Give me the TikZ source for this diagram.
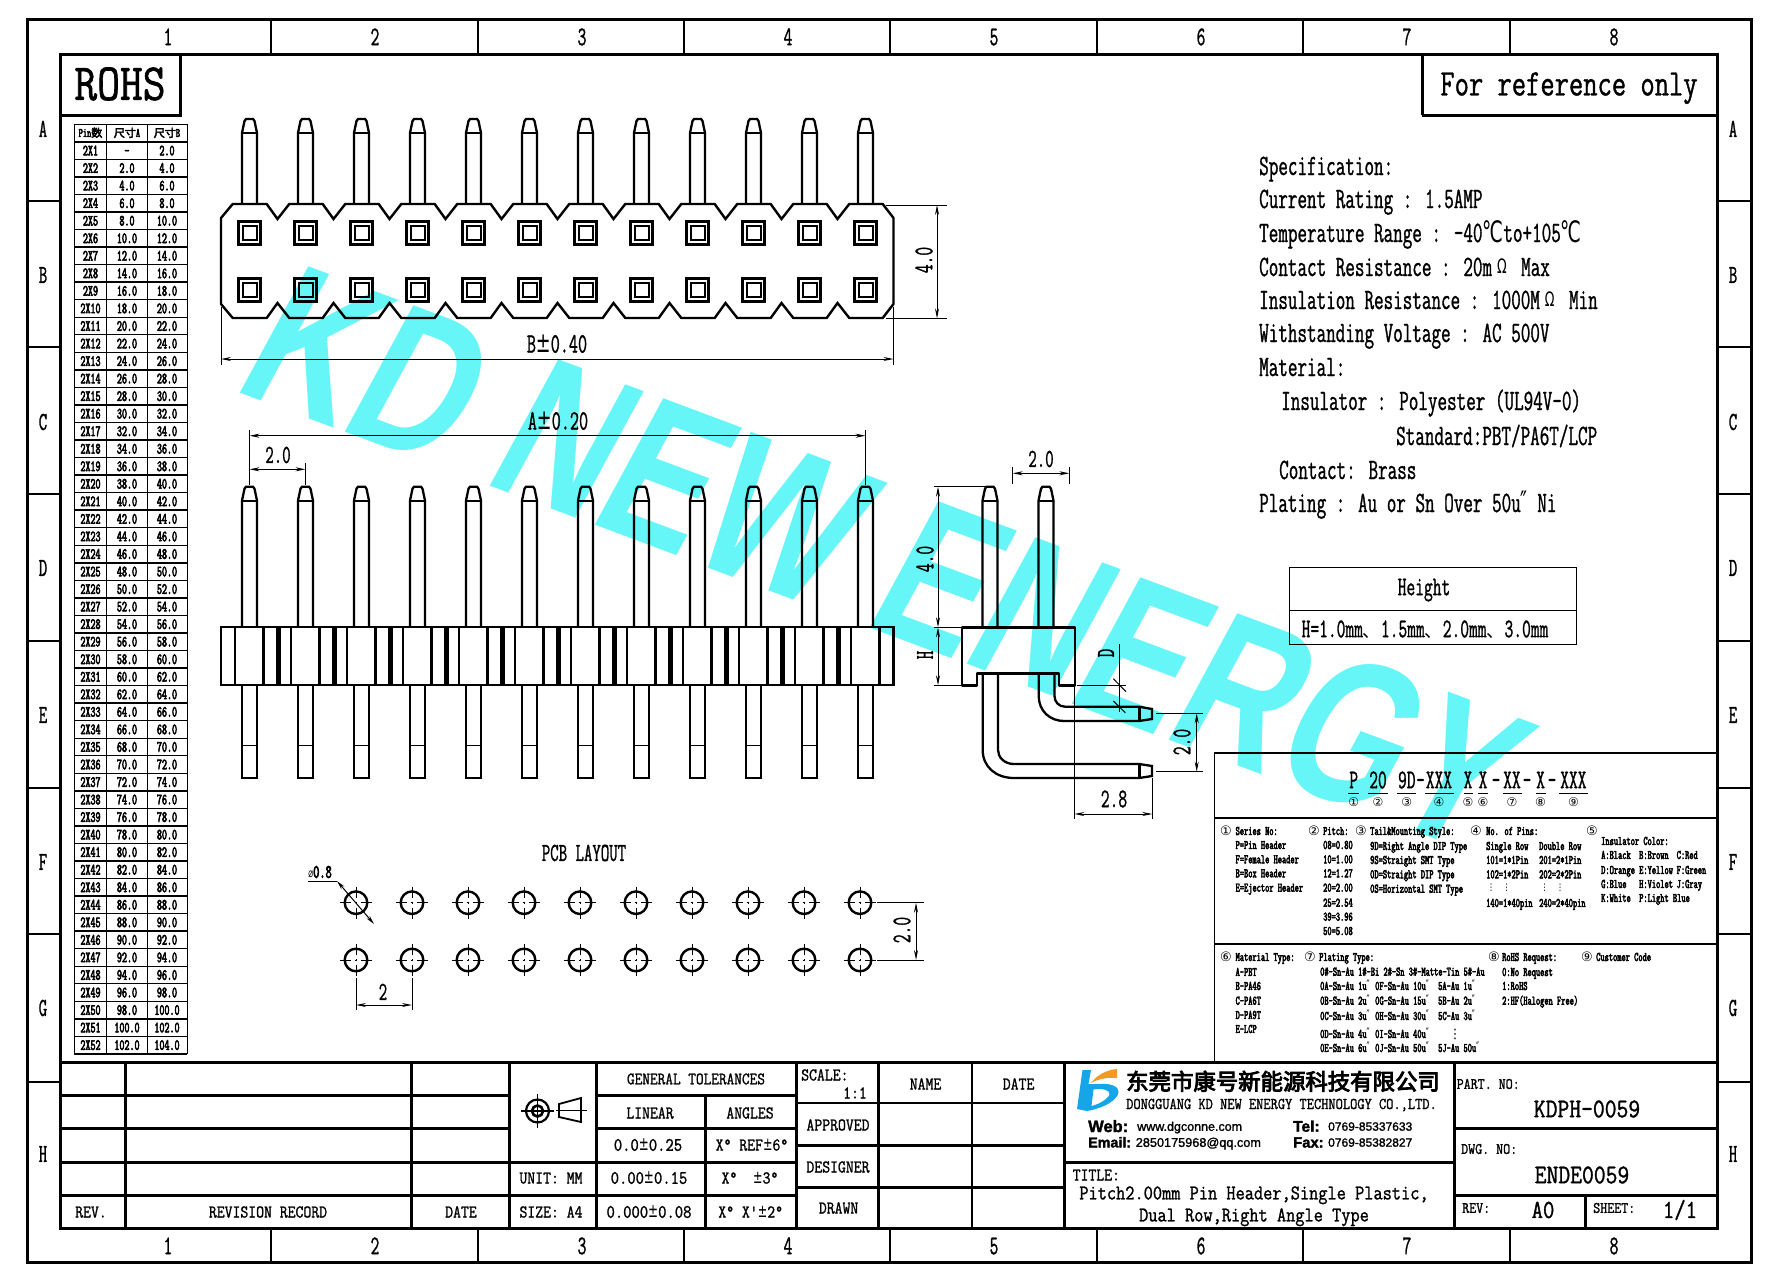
\documentclass[tikz,border=0pt]{standalone}
\usepackage{fontspec}
\usetikzlibrary{arrows.meta}
\newfontfamily\cad[FakeStretch=.63,FakeBold=1]{Latin Modern Mono}
\newfontfamily\cadm[FakeStretch=.74,FakeBold=1]{Latin Modern Mono}
\newfontfamily\cadw[FakeStretch=.85,FakeBold=1.2]{Latin Modern Mono}
\newfontfamily\cadb[FakeStretch=.63,FakeBold=3.5]{Latin Modern Mono}
\newfontfamily\dvn[FakeStretch=.63]{DejaVu Sans}
\newfontfamily\dv{DejaVu Sans}
\newfontfamily\cjk{Noto Sans CJK SC}
\newfontfamily\cjkb[FakeBold=4]{Noto Sans CJK SC}
\newfontfamily\lsans[FakeBold=1.5]{Liberation Sans}
\newfontfamily\lsansb{Liberation Sans Bold}
\newfontfamily\lsansh[FakeBold=2]{Liberation Sans Bold}
\newcommand\fs[1]{\fontsize{#1}{#1}\selectfont}
\newcounter{tc}
\newcommand\tx[4][]{\stepcounter{tc}\node[txt,#1,yshift={-0.305*#3*1pt}] (t\arabic{tc}) at (#2) {\fs{#3}#4};}
\newcommand\rtx[3]{\stepcounter{tc}\node[txt,rotate=90,anchor=center] (t\arabic{tc}) at (#1) {\fs{#2}#3};}
\newcommand\cn[3][10.5]{\stepcounter{tc}\node[txt,anchor=center] (t\arabic{tc}) at (#2) {\fs{#1}\dv #3};}
\newcommand\inch{{\dvn ″}}
\newcommand\dC{{\dvn ℃}}
\newcommand\pmm{{\dvn ±}}
\newcommand\ohmm{\makebox[19.5pt]{\dvn\fs{20}\raisebox{3pt}{Ω}}}
\definecolor{wm}{HTML}{66F6F8}
\definecolor{logob}{HTML}{16A5E6}
\definecolor{logoo}{HTML}{F39A22}
\tikzset{
  txt/.style={inner sep=0pt,anchor=base,font=\cad,text=black},
  obj/.style={line width=2.3pt,black,line join=miter},
  frm/.style={line width=3pt,black},
  mid/.style={line width=2.4pt,black},
  thn/.style={line width=1pt,black},
  tbl/.style={line width=1.4pt,black},
  dimn/.style={line width=1pt,black,{Stealth[length=10pt,width=4pt]}-{Stealth[length=10pt,width=4pt]}},
}
\begin{document}
\begin{tikzpicture}[x=1pt,y=-1pt]
\useasboundingbox (0,0) rectangle (1778,1282);
\fill[white] (0,0) rectangle (1778,1282);
% watermark
\begin{scope}[shift={(230,389)},rotate=-20.5,xslant=0.14,xscale=0.75]
\node[inner sep=0pt,anchor=base west,transform shape,text=wm,font=\lsansb\fs{207}] (wmark) at (0,0) {KD NEW ENERGY};
\end{scope}
% frames
\draw[frm] (27,19) rectangle (1751,1262);
\draw[frm] (60.5,54) rectangle (1717,1228);
\foreach \x in {271,478,684,890,1097,1303,1510} {\draw[mid] (\x,19)--(\x,54); \draw[mid] (\x,1228)--(\x,1262);}
\foreach \y in {201,347,494,641,788,934,1082} {\draw[mid] (27,\y)--(60.5,\y); \draw[mid] (1717,\y)--(1751,\y);}
\foreach \n/\x in {1/168,2/375,3/582,4/788,5/994,6/1201,7/1407,8/1614} {\tx{\x,37}{27}{\n}\tx{\x,1246}{27}{\n}}
\foreach \n/\y in {A/129,B/275,C/422,D/568,E/715,F/862,G/1008,H/1154} {\tx{43,\y}{26}{\n}\tx{1733,\y}{26}{\n}}
% ROHS and note
\draw[frm] (60.5,115)--(180.6,115)--(180.6,54);
\tx{120,84}{52}{\cadw ROHS}
\draw[frm] (1422,115)--(1422,54);\draw[frm] (1422,115)--(1717,115);
\tx{1569,84}{37.5}{\cadm For reference only}
% pin table
\foreach \k in {0,...,53} {\draw[tbl] (74.3,{124.3+17.54*\k})--(187.3,{124.3+17.54*\k});}
\foreach \x in {74.3,106.7,147.3,187.3} {\draw[tbl] (\x,124.3)--(\x,1054);}
\tx{90.5,133}{13}{\cadb Pin{\cjkb\fs{11}数}}
\tx{127,133}{13}{{\cjkb\fs{11}尺寸}\cadb A}
\tx{167,133}{13}{{\cjkb\fs{11}尺寸}\cadb B}
\foreach \k in {1,...,52} {
  \pgfmathsetmacro\yy{124.3+17.54*(\k+.5)}
  \pgfmathtruncatemacro\aa{2*(\k-1)}
  \pgfmathtruncatemacro\bb{2*\k}
  \tx{90.5,\yy}{15.5}{\cadb 2X\k}
  \ifnum\k=1 \tx{127,\yy}{15.5}{\cadb -}\else\tx{127,\yy}{15.5}{\cadb \aa.0}\fi
  \tx{167,\yy}{15.5}{\cadb \bb.0}
}
% top view
\foreach \i in {0,...,11} {
  \pgfmathsetmacro\x{249.5+56*\i}
  \draw[obj] (\x-7.5,204)--(\x-7.5,133)--(\x-5,121)--(\x-3.5,119)--(\x+3.5,119)--(\x+5,121)--(\x+7.5,133)--(\x+7.5,204);
  \draw[obj] (\x-7.5,133)--(\x+7.5,133);
  \foreach \yc in {233,290} {
    \draw[line width=2.8pt] (\x-10.8,\yc-11.4) rectangle (\x+10.8,\yc+11.4);
    \draw[line width=2pt] (\x-7,\yc-7.2) rectangle (\x+7,\yc+7.2);
  }
}
\draw[line width=2.4pt,line join=miter] (221,218) -- (232.7,204)
  \foreach \i in {0,...,10} { -- ({249.5+56*\i+17.2},204) -- ({249.5+56*\i+28},219) -- ({249.5+56*\i+39.8},204)}
  -- (882.7,204) -- (893.5,218) -- (893.5,304) -- (882.7,318)
  \foreach \i in {10,9,...,0} { -- ({249.5+56*\i+39.8},318) -- ({249.5+56*\i+28},303) -- ({249.5+56*\i+17.2},318)}
  -- (232.7,318) -- (221,304) -- cycle;
% top view dims
\draw[thn] (221,307)--(221,365);\draw[thn] (893.5,307)--(893.5,365);
\draw[dimn] (221,359)--(893.5,359);
\tx{557,344}{28}{B\pmm 0.40}
\draw[thn] (886,205)--(947,205);\draw[thn] (886,318.5)--(947,318.5);
\draw[dimn] (937,205)--(937,318.5);
\rtx{924,260}{27}{4.0}
% front view
\foreach \i in {0,...,11} {
  \pgfmathsetmacro\x{249.5+56*\i}
  \draw[obj] (\x-7.5,627)--(\x-7.5,500.7)--(\x-5,488.7)--(\x-3.5,486.7)--(\x+3.5,486.7)--(\x+5,488.7)--(\x+7.5,500.7)--(\x+7.5,627);
  \draw[obj] (\x-7.5,500.7)--(\x+7.5,500.7);
  \draw[obj] (\x-7.5,685)--(\x-7.5,778)--(\x+7.5,778)--(\x+7.5,685);
  \draw[line width=1.4pt] (\x-7.5,745.7)--(\x+7.5,745.7);
  \draw[line width=1.4pt] (\x-14.7,627)--(\x-14.7,685);
  \draw[line width=2.4pt] (\x+14,627)--(\x+14,685);
}
\foreach \i in {0,...,10} {\draw[line width=5pt] ({249.5+56*\i+29},627)--({249.5+56*\i+29},685);\draw[line width=2pt] ({249.5+56*\i+41},627)--({249.5+56*\i+41},685);}
\draw[line width=2.6pt] (221,627) rectangle (893.5,685);
% front dims
\draw[thn] (249.5,430)--(249.5,485);\draw[thn] (865.5,430)--(865.5,485);
\draw[dimn] (249.5,435.7)--(865.5,435.7);
\tx{558,421}{28}{A\pmm 0.20}
\draw[thn] (305.5,463)--(305.5,485);
\draw[dimn] (249.5,469.3)--(305.5,469.3);
\tx{278,455}{26}{2.0}
% side view
\foreach \x in {990,1046} {
  \draw[obj] (\x-7.5,627)--(\x-7.5,500.7)--(\x-5,488.7)--(\x-3.5,486.7)--(\x+3.5,486.7)--(\x+5,488.7)--(\x+7.5,500.7)--(\x+7.5,627);
  \draw[obj] (\x-7.5,500.7)--(\x+7.5,500.7);
}
\draw[line width=2.6pt,line join=round] (962,627.3)--(1075,627.3)--(1075,685.3)--(1059,685.3)--(1059,673.3)--(977,673.3)--(977,685.3)--(962,685.3)--cycle;
% bent pins
\draw[obj] (1038.7,673.3)--(1038.7,696) .. controls (1038.7,711) and (1050,721) .. (1064,721)--(1139,721)--(1152,719)--(1152,709)--(1139,706.7)--(1065,706.7) .. controls (1059,706.7) and (1054.5,702) .. (1054.5,696)--(1054.5,673.3);
\draw[line width=3pt] (1139,706.7)--(1139,721);
\draw[obj] (982.7,673.3)--(982.7,750) .. controls (982.7,767) and (996,778) .. (1014,778)--(1139,778)--(1152,776)--(1152,766)--(1139,764)--(1014,764) .. controls (1004,764) and (998,757) .. (998,750)--(998,673.3);
\draw[line width=3pt] (1139,764)--(1139,778);
% side dims
\draw[thn] (1012.7,467)--(1012.7,484);\draw[thn] (1069.3,467)--(1069.3,484);
\draw[dimn] (1012.7,473.3)--(1069.3,473.3);
\tx{1041,459}{26}{2.0}
\draw[thn] (934,486.7)--(985,486.7);\draw[thn] (934,627.3)--(962,627.3);\draw[thn] (934,685.3)--(962,685.3);
\draw[dimn] (938,486.7)--(938,627.3);
\draw[dimn] (938,627.3)--(938,685.3);
\rtx{925,559}{27}{4.0}
\rtx{925,655}{26}{H}
\draw[thn] (1076.7,685.3)--(1126,685.3);
\draw[thn] (1119.3,644)--(1119.3,711.7);
\draw[thn] (1113.3,678.7)--(1126,691.7);
\draw[thn] (1113.3,701)--(1125.3,712.7);
\rtx{1106,653}{26}{D}
\draw[thn] (1074.3,685.3)--(1074.3,819);
\draw[thn] (1152.3,778)--(1152.3,819);
\draw[dimn] (1074.3,814)--(1152.3,814);
\tx{1114,799}{27}{2.8}
\draw[thn] (1156,713.3)--(1202.7,713.3);\draw[thn] (1156,771.7)--(1202.7,771.7);
\draw[dimn] (1196.7,713.3)--(1196.7,771.7);
\rtx{1182,742}{27}{2.0}
% PCB layout
\tx{584,853}{26}{PCB LAYOUT}
\foreach \i in {0,...,9} {\foreach \yc in {902.7,960} {
  \pgfmathsetmacro\x{356+56*\i}
  \draw[line width=2.4pt] (\x,\yc) circle (11.3);
  \draw[line width=.9pt] (\x-16,\yc)--(\x-5,\yc) (\x+5,\yc)--(\x+16,\yc) (\x,\yc-16)--(\x,\yc-5) (\x,\yc+5)--(\x,\yc+16) (\x-1.2,\yc)--(\x+1.2,\yc) (\x,\yc-1.2)--(\x,\yc+1.2);
}}
\draw[thn] (308,881)--(337,881);
\draw[line width=1pt,{Stealth[length=9pt,width=4pt]}-{Stealth[length=9pt,width=4pt]}] (337,881)--(374,924);
\tx{320,872}{19}{\cadb{\dvn\fs{13}⌀}0.8}
\draw[thn] (356,978)--(356,1010);\draw[thn] (412,978)--(412,1010);
\draw[dimn] (356,1005)--(412,1005);
\tx{383,992}{26}{2}
\draw[thn] (877,902.7)--(924,902.7);\draw[thn] (877,960)--(924,960);
\draw[dimn] (916,902.7)--(916,960);
\rtx{902,930}{27}{2.0}
% spec text
\foreach \yy/\xx/\t in {
  175/1259/{Specification:},
  208/1259/{Current Rating : 1.5AMP},
  242/1259/{Temperature Range : -40\dC to+105\dC},
  276/1259/{Contact Resistance : 20m\ohmm{} Max},
  309/1259/{Insulation Resistance : 1000M\ohmm{} Min},
  342/1259/{Withstanding Voltage : AC 500V},
  376/1259/{Material:},
  410/1281/{Insulator : Polyester (UL94V-0)},
  445/1396/{Standard:PBT/PA6T/LCP},
  479/1279/{Contact: Brass},
  512/1259/{Plating : Au or Sn Over 50u\inch{} Ni}} {
  \stepcounter{tc}\node[txt,anchor=base west] (t\arabic{tc}) at (\xx,\yy) {\fs{29.5}\t};
}
% height table
\draw[thn] (1289,567) rectangle (1576,644);\draw[thn] (1289,610)--(1576,610);
\tx{1424,587}{27}{Height}
\tx{1425,629}{27}{H=1.0mm{\cjk\fs{18}、}1.5mm{\cjk\fs{18}、}2.0mm{\cjk\fs{18}、}3.0mm}
% part number box
\draw[line width=1.2pt] (1214.4,1062)--(1214.4,753)--(1717,753);
\draw[line width=1.2pt] (1214.4,818)--(1717,818);
\draw[line width=1.2pt] (1214.4,944)--(1717,944);
\foreach \x/\t in {1353.7/P,1378/20,1406.8/9D,1439/XXX,1468/X,1483/X,1512/XX,1540.6/X,1573.4/XXX} {\tx{\x,780}{27}{\t}}
\foreach \x in {1420.5,1496,1527,1552} {\tx{\x,780}{27}{-}}
\foreach \a/\b in {1348/1359,1368/1388,1397/1416,1425/1454,1463.5/1473,1478.4/1488,1503.4/1521.7,1535.5/1545.7,1559/1587.6} {\draw[thn] (\a,793.3)--(\b,793.3);}
\foreach \x/\c in {1353.7/①,1378/②,1406.8/③,1439/④,1468/⑤,1483/⑥,1512/⑦,1540.6/⑧,1573.4/⑨} {\cn[12]{\x,801.7}{\c}}
\foreach \x/\y/\c in {1226/831/①,1314/831/②,1361/831/③,1476/831/④,1592/831/⑤,1226/957/⑥,1310/957/⑦,1494/957/⑧,1587/957/⑨} {\cn[13]{\x,\y}{\c}}
\foreach \x/\y/\t in {
 1235.4/831/{Series No:},1235.4/845/{P=Pin Header},1235.4/859.3/{F=Female Header},1235.4/873.3/{B=Box Header},1235.4/887.7/{E=Ejector Header},
 1323/831/{Pitch:},1323/845/{08=0.80},1323/859.3/{10=1.00},1323/873.3/{12=1.27},1323/887.7/{20=2.00},1323/902.7/{25=2.54},1323/916.7/{39=3.96},1323/931/{50=5.08},
 1370/831/{Tail\&Mounting Style:},1370/846/{9D=Right Angle DIP Type},1370/860/{9S=Straight SMT Type},1370/874.3/{0D=Straight DIP Type},1370/888.7/{0S=Horizontal SMT Type},
 1486/831/{No. of Pins:},1486/846/{Single Row},1539/846/{Double Row},1486/860/{101=1*1Pin},1539/860/{201=2*1Pin},1486/874.3/{102=1*2Pin},1539/874.3/{202=2*2Pin},1486/903/{140=1*40pin},1539/903/{240=2*40pin},
 1601/841/{Insulator Color:},1601/855/{A:Black},1639/855/{B:Brown},1676.5/855/{C:Red},1601/870/{D:Orange},1639/870/{E:Yellow},1676.5/870/{F:Green},1601/884/{G:Blue},1639/884/{H:Violet},1676.5/884/{J:Gray},1601/898/{K:White},1639/898/{P:Light Blue},
 1235.4/957/{Material Type:},1235.4/972/{A-PBT},1235.4/986/{B-PA46},1235.4/1000.7/{C-PA6T},1235.4/1015/{D-PA9T},1235.4/1029/{E-LCP},
 1319/957/{Plating Type:},1320/971.7/{0\#-Sn-Au 1\#-Bi 2\#-Sn 3\#-Matte-Tin 5\#-Au},
 1320/986/{0A-Sn-Au 1u\inch},1375/986/{0F-Sn-Au 10u\inch},1438/986/{5A-Au 1u\inch},
 1320/1000.7/{0B-Sn-Au 2u\inch},1375/1000.7/{0G-Sn-Au 15u\inch},1438/1000.7/{5B-Au 2u\inch},
 1320/1016/{0C-Sn-Au 3u\inch},1375/1016/{0H-Sn-Au 30u\inch},1438/1016/{5C-Au 3u\inch},
 1320/1034/{0D-Sn-Au 4u\inch},1375/1034/{0I-Sn-Au 40u\inch},
 1320/1048/{0E-Sn-Au 6u\inch},1375/1048/{0J-Sn-Au 50u\inch},1438/1048/{5J-Au 50u\inch},
 1502/957/{RoHS Request:},1502/972/{0:No Request},1502/986/{1:RoHS},1502/1000.7/{2:HF(Halogen Free)},
 1596/957/{Customer Code}} {
  \tx[anchor=base west]{\x,\y}{13}{\cadb \t}
}
\foreach \x/\y in {1491/888,1506.5/888,1544.7/888,1560/888} {\cn[9]{\x,\y}{⋮}}
\cn[13]{1455,1034}{⋮}
% title block
\foreach \y in {1095,1128,1162,1195} {\draw[frm] (60.5,\y)--(509,\y);}
\draw[frm] (60.5,1062)--(1717,1062);
\foreach \x in {125.7,411} {\draw[frm] (\x,1062)--(\x,1228);}
\draw[frm] (509,1062)--(509,1228);\draw[frm] (596,1062)--(596,1228);\draw[frm] (796,1062)--(796,1228);
\draw[frm] (596,1095)--(796,1095);\draw[frm] (596,1128)--(796,1128);\draw[frm] (596,1162)--(796,1162);\draw[frm] (596,1195)--(796,1195);
\draw[frm] (705,1095)--(705,1228);
\draw[frm] (509,1162)--(596,1162);
\draw[frm] (509,1195)--(596,1195);
\draw[mid] (878.4,1062)--(878.4,1228);\draw[mid] (972,1062)--(972,1228);\draw[frm] (1064.5,1062)--(1064.5,1228);\draw[frm] (1454.6,1062)--(1454.6,1228);
\draw[mid] (796,1103)--(1064.5,1103);\draw[frm] (796,1145)--(1064.5,1145);\draw[frm] (796,1187)--(1064.5,1187);
\draw[frm] (1064.5,1162)--(1454.6,1162);
\draw[frm] (1454.6,1128)--(1717,1128);\draw[frm] (1454.6,1195)--(1717,1195);\draw[frm] (1585.7,1195)--(1585.7,1228);
\tx{91,1212}{18}{\cadw REV.}
\tx{268,1212}{18}{\cadw REVISION RECORD}
\tx{461,1212}{18}{\cadw DATE}
\tx{551,1178}{18}{\cadw UNIT: MM}
\tx{551,1212}{18}{\cadw SIZE: A4}
\tx{696,1079}{17.5}{\cadw GENERAL TOLERANCES}
\tx{650,1113}{18}{\cadw LINEAR}
\tx{750,1113}{18}{\cadw ANGLES}
\tx{648,1145}{19}{\cadw 0.0\pmm 0.25}
\tx{752,1145}{18}{\cadw X° REF\pmm 6°}
\tx{649,1178}{19}{\cadw 0.00\pmm 0.15}
\tx{750,1178}{18}{\cadw X°\ \ \pmm 3°}
\tx{649,1212}{19}{\cadw 0.000\pmm 0.08}
\tx{750.7,1212}{18}{\cadw X° X'\pmm 2°}
\tx[anchor=base west]{801,1075}{18}{\cadw SCALE:}
\tx{855,1093}{18}{\cadw 1:1}
\tx{925.5,1084}{18}{\cadw NAME}
\tx{1018.6,1084}{18}{\cadw DATE}
\tx{838,1125}{18}{\cadw APPROVED}
\tx{838,1167}{18}{\cadw DESIGNER}
\tx{838.6,1208}{18}{\cadw DRAWN}
% projection symbol
\draw[line width=2.2pt] (537.5,1111) circle (11.5);
\draw[line width=2.6pt] (537.5,1111) circle (5.5);
\draw[line width=1.2pt] (521,1111)--(554,1111) (537.5,1094)--(537.5,1128);
\draw[line width=1.8pt] (559,1104)--(581,1098)--(581,1122)--(559,1117)--cycle;
\draw[line width=1.2pt] (556,1110.5)--(587,1110.5);
% company block
\fill[logob,even odd rule] (1082.5,1070)--(1091,1070)--(1088.5,1084)--(1098,1084)
  .. controls (1110,1083) and (1119,1086) .. (1118.5,1092)
  .. controls (1118,1100) and (1104,1108) .. (1087,1111)
  --(1077,1109)--cycle
  (1093.5,1089.5) .. controls (1102,1088) and (1110,1090) .. (1109.5,1094)
  .. controls (1109,1098) and (1100,1104) .. (1091.5,1106) --cycle;
\fill[logoo] (1091,1083) .. controls (1097,1075) and (1106,1070) .. (1117,1069) -- (1117,1078) .. controls (1108,1077) and (1098,1079) .. (1091,1083) -- cycle;
\tx[anchor=base west]{1126,1083}{22.4}{\cjkb 东莞市康号新能源科技有限公司}
\tx[anchor=base west]{1126,1104}{16.5}{\cadw DONGGUANG KD NEW ENERGY TECHNOLOGY CO.,LTD.}
\tx[anchor=base west]{1088,1127}{16.5}{\lsansh Web:}
\tx[anchor=base west]{1137,1127}{12.5}{\lsans www.dgconne.com}
\tx[anchor=base west]{1293,1127}{15.5}{\lsansh Tel:}
\tx[anchor=base west]{1328,1127}{12}{\lsans 0769-85337633}
\tx[anchor=base west]{1088,1143}{14.3}{\lsansh Email:}
\tx[anchor=base west]{1135.6,1143}{12.7}{\lsans 2850175968@qq.com}
\tx[anchor=base west]{1293,1143}{14.8}{\lsansh Fax:}
\tx[anchor=base west]{1328,1143}{12}{\lsans 0769-85382827}
\tx[anchor=base west]{1072.5,1175}{18}{\cadw TITLE:}
\tx{1254,1193}{21}{\cadw Pitch2.00mm Pin Header,Single Plastic,}
\tx{1254,1215}{21}{\cadw Dual Row,Right Angle Type}
\tx[anchor=base west]{1456.5,1084}{16}{\cadw PART. NO:}
\tx{1587,1109}{27}{\cadw KDPH-0059}
\tx[anchor=base west]{1461,1149}{16}{\cadw DWG. NO:}
\tx{1582,1175}{27}{\cadw ENDE0059}
\tx[anchor=base west]{1462,1208}{16}{\cadw REV:}
\tx{1543,1210}{26}{\cadw A0}
\tx[anchor=base west]{1593,1208}{16}{\cadw SHEET:}
\tx{1680,1210}{26}{\cadw 1/1}
\end{tikzpicture}
\end{document}
